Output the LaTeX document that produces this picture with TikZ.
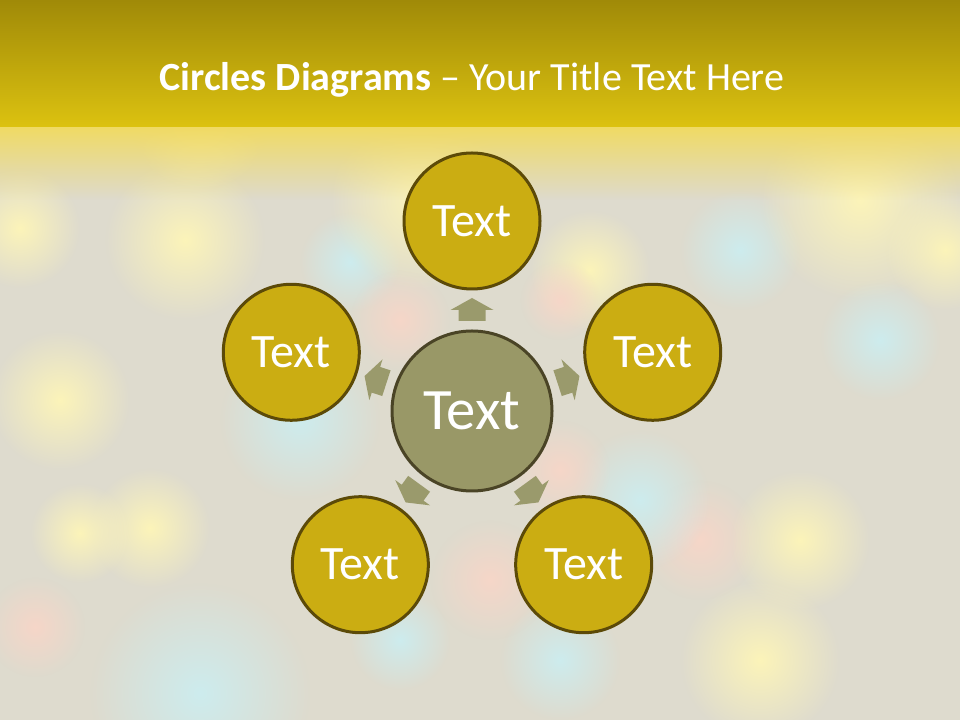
\documentclass[tikz,border=0pt]{standalone}
\usepackage{fontspec}
\setmainfont{Carlito}
\usetikzlibrary{fadings}

\definecolor{bgbase}{RGB}{222,219,206}
\definecolor{bannertop}{RGB}{160,138,8}
\definecolor{bannerbot}{RGB}{220,194,16}
\definecolor{bannerglow}{RGB}{240,218,100}
\definecolor{gold}{RGB}{203,173,18}
\definecolor{goldline}{RGB}{92,74,8}
\definecolor{olive}{RGB}{153,152,103}
\definecolor{oliveline}{RGB}{74,68,38}
\definecolor{arrowfill}{RGB}{154,154,108}
\definecolor{glowyellow}{RGB}{252,244,185}
\definecolor{glowblue}{RGB}{205,236,238}
\definecolor{glowpink}{RGB}{246,214,200}

\tikzfading[name=glow, inner color=transparent!0, outer color=transparent!100]

\begin{document}
\begin{tikzpicture}[x=0.75pt,y=0.75pt,
	petal/.style={circle, draw=goldline, line width=2.25pt, fill=gold,
		minimum size=102pt, inner sep=0pt, text=white,
		font=\fontsize{36}{36}\selectfont},
	hub/.style={circle, draw=oliveline, line width=2.25pt, fill=olive,
		minimum size=120pt, inner sep=0pt, text=white,
		font=\fontsize{44}{44}\selectfont},
	blockarrow/.style={fill=arrowfill}]
	% background - must be drawn before the rest!
	\useasboundingbox (0,0) rectangle (960,720);
	\fill[bgbase] (0,0) rectangle (960,720);
	% soft lights
	\foreach \x/\y/\r/\c in {185/480/80/glowyellow, 20/492/60/glowyellow,
		350/458/50/glowblue, 590/450/60/glowyellow, 740/470/60/glowblue,
		860/520/100/glowyellow, 945/470/60/glowyellow, 420/520/90/glowyellow,
		150/192/60/glowyellow, 80/187/50/glowyellow, 35/93/50/glowpink,
		490/140/60/glowpink, 400/80/50/glowblue, 200/27/110/glowblue,
		700/180/60/glowpink, 640/220/70/glowblue, 800/180/70/glowyellow,
		400/400/50/glowpink, 560/420/40/glowpink, 560/250/50/glowpink,
		60/320/70/glowyellow, 880/380/60/glowblue, 560/60/60/glowblue,
		300/300/80/glowblue, 760/60/80/glowyellow, 200/600/70/glowyellow} {
		\fill[\c, path fading=glow] (\x,\y) circle (\r);
	}
	\fill[bannerglow, path fading=south] (0,520) rectangle (960,593);
	% the title banner
	\shade[top color=bannertop, bottom color=bannerbot] (0,593) rectangle (960,720);
	\node[text=white, font=\fontsize{30}{30}\selectfont] (title) at (472,640)
		{\textbf{Circles Diagrams} -- Your Title Text Here};
	% the centre and the five circles round it
	\node[hub] (hub) at (472,309) {Text};
	\foreach \a/\n in {90/top, 18/right, 162/left, 234/lowleft, 306/lowright} {
		\node[petal] (\n) at ([shift={(\a:190)}]hub) {Text};
	}
	% block arrows between them
	\foreach \a in {90, 18, 162, 234, 306} {
		\fill[blockarrow, shift={(hub.center)}, rotate=\a]
			(90,-13.5) -- (101,-13.5) -- (101,-21.5) -- (113,0)
			-- (101,21.5) -- (101,13.5) -- (90,13.5) -- cycle;
	}
\end{tikzpicture}
\end{document}
